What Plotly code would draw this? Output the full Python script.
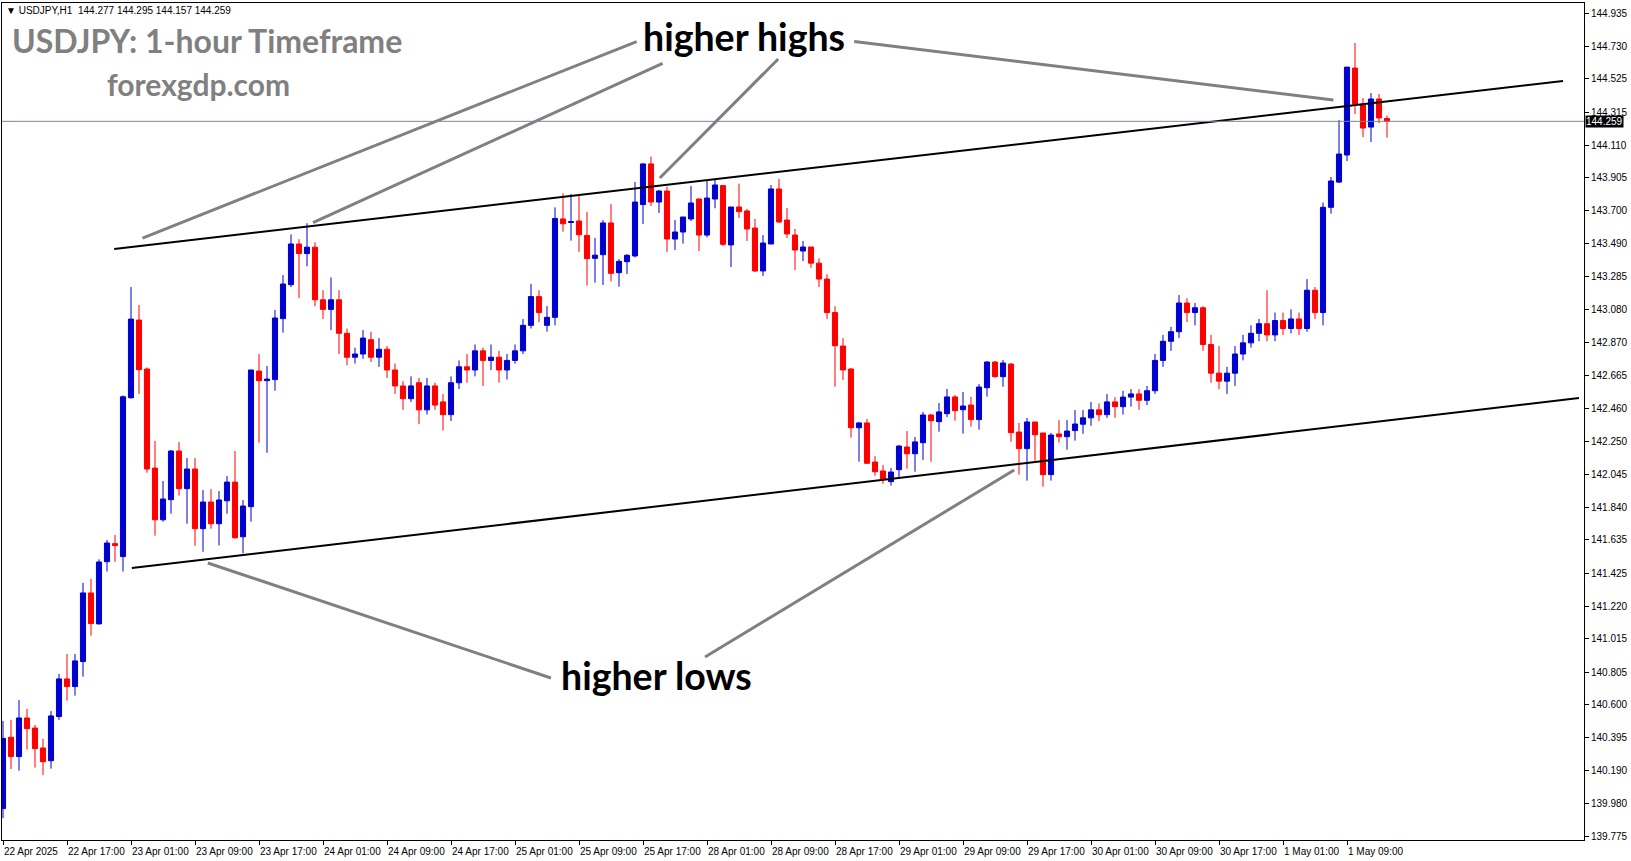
import plotly.graph_objects as go

# ---------------- data ----------------
bar_index = list(range(174))

opens = [139.95,140.397,140.276,140.518,140.455,140.33,140.25,140.527,140.763,140.715,
         140.872,141.302,141.108,141.498,141.611,141.53,142.526,143.013,142.706,142.085,
         141.761,141.887,142.192,141.956,142.079,141.705,141.872,141.736,141.88,141.997,
         141.654,141.843,142.693,142.633,142.64,143.022,143.235,143.49,143.43,143.47,
         143.14,143.08,143.14,142.93,142.78,142.80,142.89,142.78,142.83,142.70,
         142.60,142.52,142.62,142.45,142.60,142.50,142.42,142.62,142.72,142.70,
         142.82,142.76,142.78,142.70,142.76,142.82,142.98,143.16,142.98,143.03,
         143.647,143.625,143.634,143.544,143.40,143.423,143.622,143.31,143.379,143.415,
         143.737,143.992,143.753,143.822,143.521,143.565,143.647,143.772,143.546,143.772,
         143.856,143.484,143.722,143.697,143.59,143.321,143.49,143.835,143.64,143.546,
         143.446,143.471,143.37,143.27,143.06,142.85,142.706,142.338,142.368,142.123,
         142.067,142.0,142.075,142.217,142.175,142.244,142.418,142.376,142.426,142.531,
         142.451,142.48,142.389,142.589,142.75,142.658,142.737,142.311,142.207,142.374,
         142.305,142.044,142.299,142.282,142.32,142.36,142.40,142.45,142.42,142.50,
         142.47,142.53,142.55,142.51,142.57,142.76,142.88,142.94,143.12,143.06,
         143.09,142.86,142.68,142.63,142.68,142.80,142.87,142.93,142.99,142.92,
         143.01,142.96,143.02,142.96,143.20,143.06,143.72,143.878,144.048,144.593,
         144.367,144.223,144.399,144.277]
highs = [140.50,140.506,140.631,140.575,140.474,140.387,140.562,140.794,140.919,140.919,
         141.365,141.39,141.513,141.634,141.666,142.541,143.22,143.107,142.716,142.255,
         142.004,142.198,142.248,142.148,142.148,141.947,141.953,141.941,142.035,142.192,
         141.885,142.70,142.80,142.725,143.076,143.295,143.55,143.52,143.62,143.50,
         143.20,143.28,143.20,142.96,142.84,142.95,142.94,142.90,142.85,142.74,
         142.63,142.66,142.65,142.65,142.62,142.55,142.66,142.76,142.80,142.86,
         142.84,142.86,142.82,142.80,142.86,143.02,143.24,143.20,143.10,143.72,
         143.808,143.804,143.804,143.691,143.528,143.64,143.741,143.396,143.427,143.879,
         143.996,144.038,143.829,143.849,143.64,143.66,143.854,143.775,143.887,143.891,
         143.86,143.722,143.868,143.71,143.647,143.546,143.86,143.898,143.716,143.584,
         143.509,143.471,143.40,143.30,143.10,142.90,142.712,142.374,142.393,142.16,
         142.104,142.085,142.23,142.317,142.28,142.437,142.424,142.493,142.581,142.543,
         142.562,142.531,142.612,142.756,142.756,142.763,142.744,142.368,142.399,142.374,
         142.305,142.305,142.386,142.386,142.449,142.45,142.50,142.49,142.55,142.53,
         142.57,142.58,142.58,142.60,142.80,142.92,142.97,143.17,143.15,143.12,
         143.10,142.92,142.85,142.72,142.85,142.92,142.98,143.02,143.20,143.06,
         143.06,143.08,143.06,143.27,143.22,143.75,143.91,144.267,144.599,144.75,
         144.405,144.436,144.43,144.295]
lows = [139.89,140.198,140.188,140.32,140.207,140.161,140.20,140.506,140.627,140.658,
        140.777,141.034,141.104,141.436,141.498,141.436,142.52,142.549,142.056,141.661,
        141.749,141.799,141.912,141.736,141.598,141.56,141.705,141.60,141.799,141.642,
        141.55,141.749,142.244,142.181,142.57,142.934,143.22,143.15,143.35,143.10,
        143.02,142.95,142.80,142.73,142.74,142.77,142.75,142.72,142.65,142.55,
        142.45,142.50,142.36,142.42,142.45,142.32,142.38,142.58,142.62,142.66,
        142.60,142.70,142.62,142.64,142.74,142.80,142.96,143.00,142.94,142.98,
        143.567,143.511,143.44,143.229,143.248,143.233,143.256,143.222,143.302,143.406,
        143.615,143.728,143.684,143.44,143.452,143.492,143.634,143.446,143.532,143.714,
        143.477,143.346,143.653,143.509,143.314,143.289,143.49,143.622,143.528,143.327,
        143.383,143.34,143.22,143.02,142.595,142.637,142.276,142.125,142.113,142.037,
        141.987,141.975,142.025,142.081,142.062,142.136,142.125,142.313,142.405,142.382,
        142.301,142.345,142.326,142.533,142.652,142.595,142.25,142.044,142.006,142.131,
        141.968,142.006,142.244,142.2,142.257,142.30,142.35,142.38,142.40,142.40,
        142.42,142.47,142.45,142.48,142.55,142.72,142.82,142.90,143.00,142.98,
        142.82,142.62,142.58,142.55,142.60,142.76,142.84,142.88,142.88,142.88,
        142.92,142.93,142.92,142.94,143.02,142.98,143.68,143.872,144.01,144.305,
        144.16,144.129,144.248,144.157]
closes = [140.39,140.276,140.518,140.451,140.326,140.244,140.531,140.763,140.715,140.876,
          141.302,141.110,141.496,141.615,141.599,142.532,143.019,142.702,142.079,141.761,
          141.891,142.192,141.956,142.079,141.705,141.872,141.736,141.885,141.997,141.648,
          141.847,142.70,142.633,142.643,143.026,143.239,143.49,143.43,143.47,143.14,
          143.08,143.14,142.93,142.78,142.80,142.90,142.78,142.83,142.70,142.60,
          142.52,142.60,142.45,142.60,142.48,142.42,142.62,142.72,142.70,142.82,
          142.76,142.78,142.70,142.76,142.82,142.98,143.16,143.06,143.03,143.65,
          143.617,143.63,143.548,143.398,143.42,143.622,143.306,143.381,143.419,143.753,
          143.992,143.753,143.822,143.521,143.565,143.659,143.747,143.546,143.778,143.86,
          143.488,143.722,143.693,143.584,143.321,143.496,143.835,143.628,143.553,143.452,
          143.471,143.37,143.27,143.06,142.852,142.70,142.338,142.368,142.115,142.062,
          142.014,142.06,142.223,142.175,142.249,142.418,142.382,142.437,142.531,142.445,
          142.474,142.389,142.593,142.75,142.658,142.744,142.307,142.207,142.374,142.294,
          142.044,142.292,142.282,142.317,142.361,142.40,142.45,142.42,142.50,142.47,
          142.53,142.55,142.51,142.57,142.76,142.88,142.94,143.12,143.06,143.09,
          142.86,142.68,142.63,142.68,142.80,142.87,142.93,142.99,142.92,143.01,
          142.96,143.02,142.96,143.20,143.06,143.72,143.885,144.054,144.599,144.367,
          144.217,144.399,144.28,144.259]

tick_index = [0, 8, 16, 24, 32, 40, 48, 56, 64, 72, 80, 88, 96, 104, 112, 120, 128, 136, 144, 152, 160, 168]
tick_labels = ["22 Apr 2025", "22 Apr 17:00", "23 Apr 01:00", "23 Apr 09:00", "23 Apr 17:00",
               "24 Apr 01:00", "24 Apr 09:00", "24 Apr 17:00", "25 Apr 01:00", "25 Apr 09:00",
               "25 Apr 17:00", "28 Apr 01:00", "28 Apr 09:00", "28 Apr 17:00", "29 Apr 01:00",
               "29 Apr 09:00", "29 Apr 17:00", "30 Apr 01:00", "30 Apr 09:00", "30 Apr 17:00",
               "1 May 01:00", "1 May 09:00"]
price_ticks = [144.935, 144.730, 144.525, 144.315, 144.110, 143.905, 143.700, 143.490, 143.285,
               143.080, 142.870, 142.665, 142.460, 142.250, 142.045, 141.840, 141.635, 141.425,
               141.220, 141.015, 140.805, 140.600, 140.395, 140.190, 139.980, 139.775]
last_price = 144.259

# drawn channel lines (bar index, price)
upper_line_x = [13.9, 195.0]
upper_line_y = [143.459, 144.512]
lower_line_x = [16.1, 197.0]
lower_line_y = [141.458, 142.524]

# pointer lines for the labels (bar index, price)
pointer_highs = [([17.44, 79.2], [143.527, 144.759]),
                 ([38.75, 82.45], [143.624, 144.622]),
                 ([82.1, 96.9], [143.904, 144.650]),
                 ([106.4, 166.3], [144.759, 144.393])]
pointer_lows = [([25.6, 68.5], [141.490, 140.769]),
                ([87.75, 126.4], [140.900, 142.073])]

# ---------------- figure ----------------
BLUE = "#0000CD"
RED = "#FF0000"
fig = go.Figure()

fig.add_trace(go.Candlestick(
    x=bar_index, open=opens, high=highs, low=lows, close=closes,
    increasing=dict(line=dict(color=BLUE, width=1), fillcolor=BLUE),
    decreasing=dict(line=dict(color=RED, width=1), fillcolor=RED),
    whiskerwidth=0, showlegend=False, hoverinfo="skip"))

for xs, ys in pointer_highs + pointer_lows:
    fig.add_trace(go.Scatter(x=xs, y=ys, mode="lines", line=dict(color="#808080", width=3),
                             showlegend=False, hoverinfo="skip"))

fig.add_trace(go.Scatter(x=upper_line_x, y=upper_line_y, mode="lines",
                         line=dict(color="black", width=2), showlegend=False, hoverinfo="skip"))
fig.add_trace(go.Scatter(x=lower_line_x, y=lower_line_y, mode="lines",
                         line=dict(color="black", width=2), showlegend=False, hoverinfo="skip"))

fig.add_hline(y=last_price, line=dict(color="#778899", width=1))

W, H = 1631, 861
ML, MR, MT, MB = 2, 47, 3, 21
PW, PH = W - ML - MR, H - MT - MB


def px(xp):
    return (xp - ML) / PW


def py(yp):
    return (H - MB - yp) / PH


ann = []
# x tick labels, left aligned at the tick
for ti, tl in zip(tick_index, tick_labels):
    ann.append(dict(x=ti, xref="x", y=0, yref="paper", yshift=-4, text=tl, showarrow=False,
                    xanchor="left", yanchor="top", xshift=-1,
                    font=dict(family="Liberation Sans", size=10, color="black")))
# last price box
ann.append(dict(x=1, xref="paper", y=last_price, yref="y", text="144.259", showarrow=False,
                xanchor="left", yanchor="middle", xshift=1, bgcolor="black",
                font=dict(family="Liberation Sans", size=10, color="white"), borderpad=0))
# header
ann.append(dict(x=px(4), xref="paper", y=py(10), yref="paper", text="▼ USDJPY,H1  144.277 144.295 144.157 144.259",
                showarrow=False, xanchor="left", yanchor="middle",
                font=dict(family="Liberation Sans", size=10, color="black")))
# titles
ann.append(dict(x=px(10), xref="paper", y=py(41), yref="paper", text="<b>USDJPY: 1-hour Timeframe</b>",
                showarrow=False, xanchor="left", yanchor="middle",
                font=dict(family="Lato", size=32, color="#808080")))
ann.append(dict(x=px(198), xref="paper", y=py(84), yref="paper", text="<b>forexgdp.com</b>",
                showarrow=False, xanchor="center", yanchor="middle",
                font=dict(family="Lato", size=30, color="#808080")))
ann.append(dict(x=px(744), xref="paper", y=py(37), yref="paper", text="<b>higher highs</b>",
                showarrow=False, xanchor="center", yanchor="middle",
                font=dict(family="Lato", size=37.5, color="black")))
ann.append(dict(x=px(656), xref="paper", y=py(675), yref="paper", text="<b>higher lows</b>",
                showarrow=False, xanchor="center", yanchor="middle",
                font=dict(family="Lato", size=37.5, color="black")))

fig.update_layout(
    width=W, height=H, autosize=False,
    margin=dict(l=ML, r=MR, t=MT, b=MB, pad=0),
    paper_bgcolor="white", plot_bgcolor="white",
    boxgap=0.2, boxgroupgap=0.2,
    annotations=ann,
    showlegend=False,
    xaxis=dict(range=[-0.125, 197.625], showgrid=False, zeroline=False,
               rangeslider=dict(visible=False), tickvals=tick_index, ticktext=tick_labels,
               showticklabels=False, ticks="outside", ticklen=4, tickcolor="black",
               showline=True, linecolor="black", linewidth=1, mirror=True, fixedrange=True),
    yaxis=dict(range=[139.753, 145.001], side="right", showgrid=False, zeroline=False,
               tickvals=price_ticks, ticktext=[f"{v:.3f}" for v in price_ticks],
               ticks="outside", ticklen=4, tickcolor="black",
               tickfont=dict(family="Liberation Sans", size=10, color="black"),
               showline=True, linecolor="black", linewidth=1, mirror=True, fixedrange=True),
)

fig.write_html("out.html", config={"displayModeBar": False, "staticPlot": True},
               post_script="document.body.style.margin='0';document.body.style.overflow='hidden';")
